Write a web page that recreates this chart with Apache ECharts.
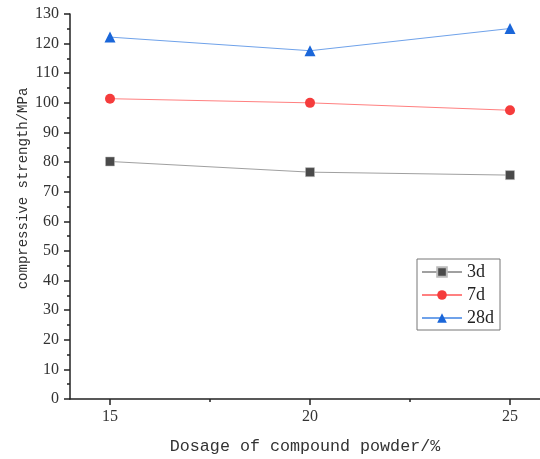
<!DOCTYPE html>
<html>
<head>
<meta charset="utf-8">
<script src="https://cdn.jsdelivr.net/npm/echarts@6/dist/echarts.min.js"></script>
<style>
  html, body { margin: 0; padding: 0; background: #fff; }
  #chart { width: 540px; height: 459px; }
</style>
</head>
<body>
<div id="chart"></div>
<script>
// 数据
var doses = [15, 20, 25];
var majorTicks = [15, 20, 25];
var minorTicks = [17.5, 22.5];
var s3d = [80.2, 76.6, 75.6];
var s7d = [101.4, 100.0, 97.5];
var s28d = [122.2, 117.6, 125.1];

function pairs(vals) {
    var out = [];
    for (var i = 0; i < doses.length; i++) {
        out.push([doses[i], vals[i]]);
    }
    return out;
}

var myChart = echarts.init(document.getElementById('chart'));

var labelFont = 'Liberation Serif';
var monoFont = 'Liberation Mono';

option = {
    animation: false,
    backgroundColor: '#fff',
    grid: {
        left: 70,
        right: 0,
        top: 14,
        bottom: 60,
        outerBoundsMode: 'none',
        containLabel: false
    },
    legend: {
        orient: 'vertical',
        left: 417,
        top: 259,
        borderColor: '#777',
        borderWidth: 1,
        padding: [4, 6, 3, 4],
        itemGap: 5,
        itemWidth: 40,
        itemHeight: 12,
        textStyle: {
            fontFamily: labelFont,
            fontSize: 18,
            color: '#222'
        },
        data: ['3d', '7d', '28d']
    },
    xAxis: [{
        type: 'value',
        min: 14,
        max: 25.75,
        name: 'Dosage of compound powder/%',
        nameLocation: 'middle',
        nameGap: 39,
        nameMoveOverlap: false,
        nameTextStyle: {
            fontFamily: monoFont,
            fontSize: 16.7,
            color: '#333'
        },
        axisLine: { show: true, lineStyle: { color: '#222', width: 1.5 } },
        axisTick: { show: true, length: 6, customValues: majorTicks, lineStyle: { color: '#222', width: 1.5 } },
        axisLabel: {
            customValues: majorTicks,
            margin: 10,
            fontFamily: labelFont,
            fontSize: 16,
            color: '#333'
        },
        splitLine: { show: false }
    }, {
        type: 'value',
        min: 14,
        max: 25.75,
        position: 'bottom',
        offset: 0,
        axisLine: { show: false },
        axisTick: { show: true, length: 3, customValues: minorTicks, lineStyle: { color: '#222', width: 1.5 } },
        axisLabel: { show: false },
        splitLine: { show: false }
    }],
    yAxis: {
        type: 'value',
        min: 0,
        max: 130,
        interval: 10,
        name: 'compressive strength/MPa',
        nameLocation: 'middle',
        nameGap: 40,
        nameMoveOverlap: false,
        nameTextStyle: {
            fontFamily: monoFont,
            fontSize: 14,
            color: '#333',
            padding: [0, 0, 0, 36]
        },
        axisLine: { show: true, lineStyle: { color: '#222', width: 1.5 } },
        axisTick: { show: true, length: 6, lineStyle: { color: '#222', width: 1.5 } },
        minorTick: { show: true, splitNumber: 2, length: 3, lineStyle: { color: '#222', width: 1.5 } },
        axisLabel: {
            margin: 11,
            fontFamily: labelFont,
            fontSize: 16,
            color: '#333'
        },
        splitLine: { show: false }
    },
    series: [{
        name: '3d',
        type: 'line',
        data: pairs(s3d),
        symbol: 'rect',
        symbolSize: 9,
        lineStyle: { color: '#a0a0a0', width: 1 },
        itemStyle: { color: '#4a4a4a', borderColor: '#bbb', borderWidth: 0.5 }
    }, {
        name: '7d',
        type: 'line',
        data: pairs(s7d),
        symbol: 'circle',
        symbolSize: 10,
        lineStyle: { color: '#ff8080', width: 1 },
        itemStyle: { color: '#f53c3c' }
    }, {
        name: '28d',
        type: 'line',
        data: pairs(s28d),
        symbol: 'triangle',
        symbolSize: 11,
        lineStyle: { color: '#6fa2ea', width: 1 },
        itemStyle: { color: '#1a66d9' }
    }]
};

myChart.setOption(option);
</script>
</body>
</html>
